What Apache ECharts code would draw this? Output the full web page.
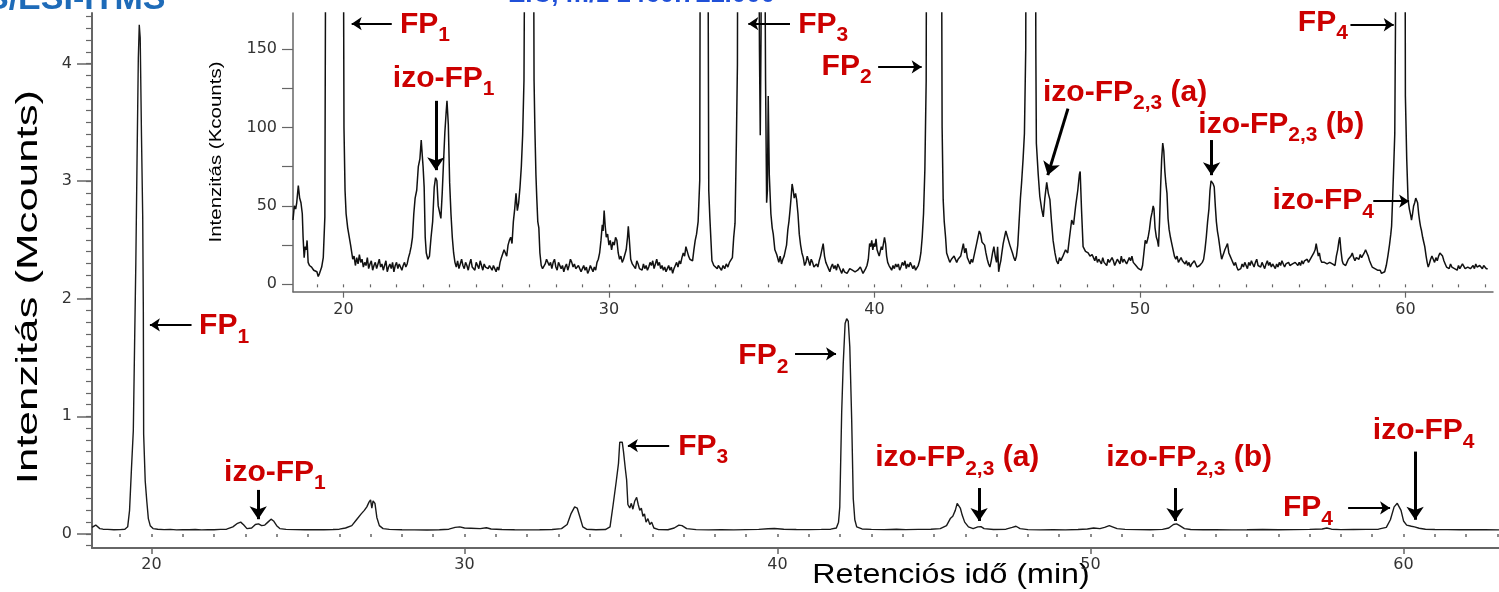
<!DOCTYPE html>
<html><head><meta charset="utf-8">
<script src="https://cdn.jsdelivr.net/npm/echarts@6/dist/echarts.min.js"></script>
<style>html,body{margin:0;padding:0;background:#fff}#c{width:1499px;height:592px}</style>
</head><body><div id="c"></div>
<script>
// ---------------- DATA ----------------
// Main chromatogram: [retention time (min), intensity (Mcounts)]
const mainTrace = [[18.10,0.055],[18.15,0.06],[18.22,0.075],[18.28,0.06],[18.35,0.045],[18.45,0.04],[18.6,0.038],[18.8,0.035],[19.0,0.036],[19.15,0.04],[19.24,0.06],[19.3,0.2],[19.36,0.55],[19.42,0.88],[19.46,1.6],[19.5,2.3],[19.54,3.2],[19.58,4.05],[19.61,4.33],[19.64,4.22],[19.68,3.4],[19.72,2.7],[19.74,1.9],[19.75,0.85],[19.8,0.45],[19.85,0.28],[19.9,0.13],[19.96,0.07],[20.05,0.045],[20.2,0.04],[20.4,0.036],[20.6,0.038],[20.8,0.034],[21.0,0.036],[21.2,0.035],[21.4,0.037],[21.6,0.034],[21.8,0.036],[22.0,0.035],[22.2,0.038],[22.4,0.04],[22.6,0.06],[22.75,0.09],[22.85,0.1],[22.95,0.075],[23.05,0.045],[23.2,0.05],[23.32,0.08],[23.42,0.085],[23.52,0.07],[23.62,0.075],[23.72,0.1],[23.82,0.125],[23.9,0.11],[24.0,0.07],[24.1,0.045],[24.3,0.038],[24.6,0.036],[24.9,0.035],[25.2,0.036],[25.5,0.035],[25.8,0.037],[26.0,0.04],[26.2,0.05],[26.4,0.07],[26.55,0.12],[26.7,0.17],[26.8,0.2],[26.88,0.23],[26.95,0.27],[27.0,0.29],[27.04,0.22],[27.08,0.28],[27.14,0.26],[27.2,0.14],[27.28,0.07],[27.4,0.045],[27.6,0.038],[28.0,0.035],[28.4,0.034],[28.8,0.033],[29.2,0.035],[29.5,0.04],[29.7,0.055],[29.85,0.06],[30.0,0.05],[30.2,0.048],[30.5,0.045],[30.7,0.052],[30.85,0.042],[31.2,0.037],[31.6,0.035],[32.0,0.034],[32.4,0.035],[32.8,0.037],[33.1,0.045],[33.28,0.08],[33.4,0.17],[33.52,0.23],[33.6,0.22],[33.68,0.15],[33.78,0.06],[33.9,0.04],[34.2,0.035],[34.5,0.037],[34.65,0.06],[34.75,0.25],[34.85,0.45],[34.92,0.6],[34.96,0.78],[35.04,0.78],[35.08,0.7],[35.14,0.55],[35.18,0.46],[35.22,0.25],[35.28,0.22],[35.33,0.26],[35.38,0.21],[35.44,0.28],[35.5,0.31],[35.55,0.25],[35.6,0.2],[35.65,0.22],[35.7,0.15],[35.75,0.17],[35.8,0.1],[35.86,0.13],[35.92,0.08],[35.98,0.1],[36.05,0.05],[36.2,0.036],[36.5,0.035],[36.7,0.05],[36.85,0.075],[36.95,0.07],[37.1,0.045],[37.4,0.036],[37.8,0.034],[38.2,0.035],[38.6,0.034],[39.0,0.036],[39.4,0.038],[39.7,0.044],[39.9,0.046],[40.2,0.04],[40.6,0.037],[41.0,0.036],[41.4,0.038],[41.7,0.04],[41.88,0.05],[41.95,0.1],[41.99,0.23],[42.05,1.03],[42.1,1.45],[42.16,1.79],[42.21,1.83],[42.26,1.81],[42.31,1.59],[42.37,0.97],[42.42,0.3],[42.47,0.12],[42.53,0.06],[42.7,0.042],[43.0,0.038],[43.4,0.036],[43.8,0.04],[44.1,0.036],[44.5,0.038],[44.9,0.04],[45.2,0.045],[45.4,0.07],[45.52,0.13],[45.6,0.15],[45.68,0.2],[45.74,0.26],[45.78,0.27],[45.84,0.22],[45.9,0.16],[45.98,0.1],[46.1,0.06],[46.25,0.045],[46.4,0.06],[46.5,0.062],[46.6,0.045],[46.9,0.037],[47.3,0.04],[47.5,0.055],[47.62,0.065],[47.75,0.045],[48.0,0.036],[48.4,0.034],[48.8,0.036],[49.2,0.034],[49.6,0.037],[49.9,0.042],[50.1,0.05],[50.3,0.045],[50.45,0.055],[50.6,0.07],[50.7,0.06],[50.85,0.045],[51.1,0.038],[51.5,0.036],[51.9,0.035],[52.3,0.038],[52.5,0.05],[52.65,0.08],[52.75,0.085],[52.85,0.07],[53.0,0.045],[53.2,0.037],[53.6,0.035],[54.0,0.036],[54.5,0.034],[55.0,0.035],[55.5,0.037],[56.0,0.035],[56.5,0.036],[57.0,0.038],[57.4,0.042],[57.55,0.05],[57.7,0.04],[58.0,0.036],[58.4,0.037],[58.8,0.038],[59.2,0.04],[59.45,0.055],[59.58,0.12],[59.7,0.23],[59.8,0.26],[59.86,0.26],[59.92,0.2],[60.0,0.11],[60.1,0.075],[60.25,0.065],[60.35,0.06],[60.5,0.048],[60.7,0.04],[61.0,0.037],[61.4,0.036],[61.8,0.035],[62.2,0.036],[62.6,0.035],[63.05,0.034]];

// Inset chromatogram: [retention time (min), intensity (Kcounts)] (peaks run off-scale)
const insetTrace = [[18.1,41],[18.15,50],[18.2,48],[18.24,52],[18.3,63],[18.35,55],[18.4,52],[18.45,45],[18.48,30],[18.52,17],[18.56,24],[18.6,22],[18.63,28],[18.67,14],[18.72,12],[18.8,11],[18.88,9],[18.95,10],[19.0,8],[19.05,5],[19.1,7],[19.18,11],[19.24,17],[19.3,43],[19.36,400],[19.6,5000],[19.97,400],[20.02,100],[20.06,60],[20.1,45],[20.16,36],[20.2,36],[20.27,25],[20.35,16],[20.4,18],[20.45,12],[20.5,17],[20.55,13],[20.6,19],[20.65,14],[20.7,16],[20.75,11],[20.8,14],[20.85,12],[20.9,17],[20.95,10],[21.0,13],[21.05,15],[21.1,9],[21.15,12],[21.2,14],[21.25,10],[21.3,13],[21.35,16],[21.4,11],[21.45,13],[21.5,9],[21.55,12],[21.6,15],[21.65,8],[21.7,11],[21.75,13],[21.8,10],[21.85,14],[21.9,8],[21.95,12],[22.0,14],[22.05,10],[22.1,13],[22.15,11],[22.2,9],[22.25,12],[22.3,14],[22.35,11],[22.4,13],[22.45,17],[22.5,20],[22.55,24],[22.6,30],[22.65,45],[22.7,55],[22.76,60],[22.82,75],[22.88,80],[22.93,92],[22.97,82],[23.0,75],[23.04,62],[23.08,30],[23.12,20],[23.18,16],[23.24,18],[23.3,30],[23.36,40],[23.42,62],[23.47,68],[23.52,66],[23.57,50],[23.62,46],[23.67,42],[23.72,58],[23.77,78],[23.82,97],[23.87,110],[23.9,117],[23.95,102],[24.0,65],[24.05,45],[24.1,30],[24.15,20],[24.2,14],[24.25,11],[24.3,15],[24.35,10],[24.4,13],[24.45,16],[24.5,12],[24.55,10],[24.6,14],[24.65,12],[24.7,9],[24.75,13],[24.8,16],[24.85,11],[24.9,12],[24.95,9],[25.0,14],[25.05,12],[25.1,10],[25.15,15],[25.2,12],[25.25,9],[25.3,13],[25.35,11],[25.4,12],[25.45,10],[25.5,12],[25.55,11],[25.6,9],[25.65,12],[25.7,10],[25.75,8],[25.8,11],[25.85,9],[25.9,14],[25.95,17],[26.0,16],[26.05,22],[26.1,23],[26.15,18],[26.2,25],[26.25,28],[26.3,30],[26.35,26],[26.4,40],[26.45,48],[26.5,58],[26.55,47],[26.6,52],[26.65,62],[26.7,75],[26.75,95],[26.8,130],[26.88,400],[27.0,2000],[27.13,400],[27.18,130],[27.21,100],[27.25,70],[27.28,56],[27.32,40],[27.36,36],[27.4,20],[27.45,12],[27.5,10],[27.55,11],[27.6,13],[27.65,16],[27.7,17],[27.75,12],[27.8,14],[27.85,10],[27.9,14],[27.95,16],[28.0,11],[28.05,9],[28.1,14],[28.15,13],[28.2,10],[28.25,12],[28.3,8],[28.35,11],[28.4,13],[28.45,9],[28.5,12],[28.55,16],[28.6,14],[28.65,11],[28.7,13],[28.75,10],[28.8,9],[28.85,12],[28.9,10],[28.95,8],[29.0,10],[29.05,12],[29.1,9],[29.15,11],[29.2,7],[29.25,9],[29.3,12],[29.35,10],[29.4,8],[29.45,11],[29.5,9],[29.55,14],[29.6,16],[29.65,20],[29.7,28],[29.75,38],[29.78,34],[29.82,47],[29.86,37],[29.9,30],[29.95,32],[30.0,25],[30.05,28],[30.1,22],[30.15,27],[30.2,25],[30.25,30],[30.3,28],[30.35,20],[30.4,16],[30.45,18],[30.5,14],[30.55,16],[30.6,15],[30.65,22],[30.7,30],[30.73,37],[30.77,28],[30.82,16],[30.88,13],[30.95,12],[31.0,10],[31.05,15],[31.1,13],[31.15,10],[31.2,11],[31.25,9],[31.3,13],[31.35,10],[31.4,12],[31.45,9],[31.5,11],[31.55,14],[31.6,12],[31.65,15],[31.7,10],[31.75,13],[31.8,16],[31.85,12],[31.9,14],[31.95,10],[32.0,12],[32.05,9],[32.1,11],[32.15,8],[32.2,10],[32.25,12],[32.3,9],[32.35,11],[32.4,7],[32.45,10],[32.5,12],[32.55,14],[32.6,11],[32.65,15],[32.7,13],[32.75,17],[32.8,20],[32.85,18],[32.9,24],[32.95,21],[33.0,18],[33.05,16],[33.1,17],[33.15,15],[33.2,22],[33.25,28],[33.3,32],[33.36,40],[33.42,66],[33.46,400],[33.58,2000],[33.7,400],[33.76,60],[33.8,43],[33.88,15],[33.95,12],[34.02,13],[34.08,10],[34.12,12],[34.18,11],[34.24,9],[34.3,12],[34.36,10],[34.42,13],[34.48,11],[34.54,14],[34.6,13],[34.65,17],[34.7,30],[34.75,39],[34.8,90],[34.84,140],[34.87,400],[35.2,3000],[35.6,400],[35.67,150],[35.7,95],[35.73,160],[35.76,400],[35.85,300],[35.9,130],[35.94,52],[35.97,60],[36.0,120],[36.04,70],[36.1,45],[36.15,36],[36.19,32],[36.25,22],[36.32,19],[36.4,14],[36.45,18],[36.5,13],[36.55,16],[36.6,18],[36.65,22],[36.69,25],[36.74,35],[36.78,40],[36.82,47],[36.86,55],[36.9,64],[36.94,60],[36.98,55],[37.03,58],[37.07,54],[37.12,45],[37.17,32],[37.22,25],[37.27,20],[37.32,17],[37.37,12],[37.42,14],[37.47,18],[37.52,15],[37.57,12],[37.62,16],[37.67,14],[37.72,11],[37.77,10],[37.82,13],[37.87,11],[37.92,15],[37.97,18],[38.02,22],[38.07,26],[38.12,18],[38.17,14],[38.22,12],[38.27,10],[38.32,8],[38.37,11],[38.42,13],[38.47,10],[38.52,12],[38.57,9],[38.62,13],[38.67,11],[38.72,9],[38.77,7],[38.82,10],[38.87,8],[38.92,9],[38.97,7],[39.02,8],[39.07,10],[39.12,11],[39.17,9],[39.22,10],[39.27,8],[39.32,7],[39.37,9],[39.42,8],[39.47,11],[39.52,9],[39.57,7],[39.62,8],[39.67,10],[39.72,12],[39.77,16],[39.82,26],[39.86,24],[39.9,28],[39.94,22],[39.98,26],[40.02,24],[40.06,29],[40.1,22],[40.14,20],[40.18,18],[40.22,17],[40.26,24],[40.3,22],[40.34,26],[40.38,30],[40.42,26],[40.46,18],[40.5,14],[40.55,12],[40.6,11],[40.65,9],[40.7,12],[40.75,10],[40.8,13],[40.85,11],[40.9,13],[40.95,9],[41.0,11],[41.05,14],[41.1,12],[41.15,15],[41.2,10],[41.25,13],[41.3,11],[41.35,14],[41.4,12],[41.45,10],[41.5,12],[41.55,9],[41.6,8],[41.65,12],[41.7,15],[41.75,20],[41.8,30],[41.85,45],[41.9,73],[41.95,130],[41.98,400],[42.2,3000],[42.5,400],[42.55,100],[42.59,54],[42.63,40],[42.68,30],[42.72,20],[42.78,17],[42.84,14],[42.9,16],[42.95,15],[43.0,18],[43.05,17],[43.1,14],[43.15,16],[43.2,15],[43.25,18],[43.3,22],[43.35,26],[43.4,20],[43.45,23],[43.5,17],[43.55,15],[43.6,13],[43.65,16],[43.7,14],[43.75,18],[43.8,22],[43.85,26],[43.9,30],[43.95,34],[44.0,32],[44.05,27],[44.1,26],[44.15,25],[44.2,20],[44.25,16],[44.3,13],[44.35,11],[44.4,15],[44.45,20],[44.5,24],[44.55,18],[44.6,14],[44.64,24],[44.68,8],[44.72,12],[44.76,15],[44.8,20],[44.85,26],[44.9,30],[44.95,34],[45.0,33],[45.05,28],[45.1,25],[45.15,24],[45.2,20],[45.25,17],[45.3,15],[45.35,18],[45.4,25],[45.45,40],[45.5,55],[45.54,64],[45.6,80],[45.65,96],[45.7,150],[45.73,400],[45.9,3000],[46.05,400],[46.08,150],[46.1,90],[46.17,70],[46.23,56],[46.3,48],[46.36,43],[46.42,55],[46.49,65],[46.55,58],[46.61,54],[46.67,40],[46.73,28],[46.8,20],[46.86,15],[46.92,13],[46.97,17],[47.02,15],[47.1,18],[47.2,22],[47.28,20],[47.35,30],[47.43,41],[47.5,38],[47.58,50],[47.66,60],[47.72,70],[47.75,72],[47.8,48],[47.86,24],[47.95,21],[48.05,20],[48.12,18],[48.2,19],[48.25,17],[48.3,15],[48.35,18],[48.4,14],[48.45,16],[48.5,15],[48.55,13],[48.6,17],[48.65,14],[48.7,15],[48.75,12],[48.8,16],[48.85,14],[48.9,13],[48.95,17],[49.0,15],[49.05,12],[49.1,14],[49.15,16],[49.2,15],[49.25,13],[49.3,18],[49.35,14],[49.4,16],[49.45,15],[49.5,13],[49.55,14],[49.6,17],[49.65,15],[49.7,18],[49.75,14],[49.8,15],[49.85,12],[49.9,11],[49.95,10],[50.0,11],[50.05,9],[50.1,12],[50.15,20],[50.2,28],[50.25,26],[50.31,30],[50.36,35],[50.41,42],[50.46,46],[50.5,50],[50.53,48],[50.57,36],[50.62,30],[50.66,28],[50.7,24],[50.74,40],[50.78,62],[50.82,80],[50.86,90],[50.9,85],[50.94,72],[50.98,64],[51.02,58],[51.06,42],[51.1,35],[51.15,30],[51.2,26],[51.25,22],[51.3,18],[51.35,16],[51.4,18],[51.45,14],[51.5,15],[51.55,17],[51.6,15],[51.65,14],[51.7,13],[51.75,15],[51.8,12],[51.85,14],[51.9,11],[51.95,13],[52.0,12],[52.05,15],[52.1,14],[52.15,11],[52.2,10],[52.25,12],[52.3,13],[52.35,14],[52.4,16],[52.45,22],[52.5,30],[52.55,40],[52.6,48],[52.64,60],[52.68,66],[52.72,65],[52.76,64],[52.8,62],[52.84,50],[52.88,40],[52.92,34],[52.96,30],[53.0,25],[53.04,20],[53.08,16],[53.12,18],[53.16,20],[53.2,22],[53.25,24],[53.3,26],[53.35,20],[53.4,18],[53.45,16],[53.5,14],[53.55,12],[53.6,14],[53.65,11],[53.7,9],[53.75,8],[53.8,10],[53.85,13],[53.9,11],[53.95,14],[54.0,12],[54.05,10],[54.1,14],[54.15,12],[54.2,15],[54.25,13],[54.3,11],[54.35,14],[54.4,16],[54.45,12],[54.5,13],[54.55,11],[54.6,14],[54.65,12],[54.7,10],[54.75,13],[54.8,15],[54.85,12],[54.9,14],[54.95,11],[55.0,13],[55.05,12],[55.1,10],[55.15,13],[55.2,11],[55.25,14],[55.3,12],[55.35,15],[55.4,13],[55.45,11],[55.5,13],[55.55,12],[55.6,14],[55.65,12],[55.7,11],[55.75,13],[55.8,12],[55.85,14],[55.9,13],[55.95,12],[56.0,14],[56.05,12],[56.1,15],[56.15,13],[56.2,15],[56.25,14],[56.3,16],[56.35,14],[56.4,15],[56.45,17],[56.5,18],[56.55,20],[56.6,22],[56.64,26],[56.68,22],[56.72,18],[56.76,20],[56.8,16],[56.85,14],[56.9,13],[56.95,14],[57.0,15],[57.05,13],[57.1,12],[57.15,14],[57.2,15],[57.25,13],[57.3,14],[57.35,12],[57.4,18],[57.45,22],[57.5,28],[57.53,30],[57.57,22],[57.62,15],[57.66,13],[57.7,14],[57.75,12],[57.8,14],[57.85,16],[57.9,15],[57.95,18],[58.0,20],[58.05,17],[58.1,15],[58.15,17],[58.2,18],[58.25,16],[58.3,19],[58.35,17],[58.4,18],[58.45,20],[58.5,22],[58.55,20],[58.6,18],[58.65,15],[58.7,13],[58.75,11],[58.8,12],[58.85,10],[58.9,11],[58.95,9],[59.0,8],[59.05,9],[59.1,7],[59.16,6],[59.22,8],[59.28,12],[59.34,18],[59.4,25],[59.45,32],[59.48,37],[59.52,55],[59.56,75],[59.6,96],[59.64,200],[59.66,400],[59.8,3000],[59.97,400],[60.0,120],[60.05,80],[60.1,54],[60.15,48],[60.2,44],[60.23,41],[60.27,45],[60.31,50],[60.35,52],[60.39,55],[60.42,56],[60.46,52],[60.5,45],[60.54,40],[60.57,37],[60.61,34],[60.65,30],[60.69,27],[60.73,24],[60.78,18],[60.82,14],[60.86,11],[60.9,13],[60.95,16],[61.0,18],[61.05,16],[61.1,14],[61.15,17],[61.2,15],[61.25,18],[61.3,20],[61.35,19],[61.4,18],[61.45,15],[61.5,13],[61.55,11],[61.6,12],[61.65,10],[61.7,13],[61.75,11],[61.8,12],[61.85,10],[61.9,11],[61.95,9],[62.0,12],[62.05,10],[62.1,11],[62.15,13],[62.2,12],[62.25,10],[62.3,9],[62.35,11],[62.4,12],[62.45,10],[62.5,11],[62.55,12],[62.6,10],[62.65,13],[62.7,11],[62.75,10],[62.8,12],[62.85,11],[62.9,10],[62.95,12],[63.0,11],[63.05,10],[63.1,10]];

// Tick labels
const mainXTicks = [20, 30, 40, 50, 60];
const mainYTicks = [0, 1, 2, 3, 4];
const insetXTicks = [20, 30, 40, 50, 60];
const insetYTicks = [0, 50, 100, 150];
const insetYMinorTicks = [0, 25, 50, 75, 100, 125, 150];

// Annotation labels (rich text: m = main, s = subscript) and anchors [time, intensity]
const mainLabelText = ['{m|FP}{s|1}', '{m|izo-FP}{s|1}', '{m|FP}{s|3}', '{m|FP}{s|2}', '{m|izo-FP}{s|2,3}{m| (a)}', '{m|izo-FP}{s|2,3}{m| (b)}', '{m|FP}{s|4}', '{m|izo-FP}{s|4}'];
const mainLabelPos = [[21.52, 1.77], [22.32, 0.523], [36.83, 0.742], [38.75, 1.515], [43.12, 0.646], [50.5, 0.646], [56.15, 0.221], [59.02, 0.876]];
// Arrows: [from, to, width]
const mainArrows = [[[21.28, 1.777], [19.95, 1.777], 2], [[23.41, 0.374], [23.41, 0.125], 3], [[36.54, 0.751], [35.22, 0.751], 2], [[40.56, 1.531], [41.87, 1.531], 2], [[46.44, 0.39], [46.44, 0.11], 3], [[52.7, 0.39], [52.7, 0.11], 3], [[58.23, 0.221], [59.57, 0.221], 2], [[60.37, 0.70], [60.37, 0.12], 3]];

const insetLabelText = ['{m|FP}{s|1}', '{m|izo-FP}{s|1}', '{m|FP}{s|3}', '{m|FP}{s|2}', '{m|izo-FP}{s|2,3}{m| (a)}', '{m|izo-FP}{s|2,3}{m| (b)}', '{m|FP}{s|4}', '{m|izo-FP}{s|4}'];
const insetLabelPos = [[22.13, 165.8], [21.86, 131.4], [37.13, 165.8], [38.01, 139], [46.35, 122.4], [52.2, 102], [55.95, 167], [54.99, 53]];
const insetArrows = [[[21.82, 166.2], [20.31, 166.2], 2], [[23.48, 117], [23.48, 72.8], 3], [[36.82, 166.2], [35.25, 166.2], 2], [[40.14, 138.6], [41.78, 138.6], 2], [[47.29, 112], [46.53, 69.6], 3], [[52.7, 92], [52.7, 69.6], 3], [[57.93, 165.5], [59.56, 165.5], 2], [[58.79, 53], [60.14, 53], 2]];

// ---------------- CHART ----------------
const chart = echarts.init(document.getElementById('c'), null, {renderer: 'canvas'});
const RED = '#cc0000';
const rich = {
  m: {fontSize: 30, fontWeight: 'bold', color: RED, fontFamily: 'Liberation Sans', lineHeight: 32, opacity: 1},
  s: {fontSize: 21, fontWeight: 'bold', color: RED, fontFamily: 'Liberation Sans', lineHeight: 22, padding: [22, 0, 0, 0], opacity: 1}
};
function range(a, b, step) { const r = []; for (let i = 0; a + i * step <= b + 1e-9; i++) r.push(Math.round((a + i * step) * 100) / 100); return r; }
const mainXMinor = range(19, 63, 1);
const mainYMinor = range(-0.1, 4.4, 0.1);
const insetXMinor = range(19, 63, 1);
const axisGray = '#666';
const tickFont = {fontFamily: 'DejaVu Sans', color: '#333'};

function arrowData(list) {
  return list.map(a => [
    {coord: a[0], symbol: 'none', lineStyle: {width: a[2], color: '#000'}},
    {coord: a[1], symbol: 'arrow', symbolSize: a[2] === 3 ? 13 : 10, itemStyle: {color: '#000'}}
  ]);
}
function labelSeries(name, xi, yi, pos, texts) {
  return {
    name: name, type: 'scatter', xAxisIndex: xi, yAxisIndex: yi, symbolSize: 0, silent: true,
    itemStyle: {color: RED, opacity: 1},
    data: pos,
    label: {show: true, position: 'right', distance: 0, color: RED, opacity: 1, formatter: p => texts[p.dataIndex], rich: rich},
    z: 10
  };
}
function arrowSeries(name, xi, yi, list) {
  return {
    name: name, type: 'line', xAxisIndex: xi, yAxisIndex: yi, data: [], silent: true,
    itemStyle: {color: '#000'}, lineStyle: {color: '#000'},
    markLine: {silent: true, symbol: ['none', 'arrow'], symbolSize: 10, precision: 4,
      label: {show: false}, itemStyle: {color: '#000'},
      lineStyle: {color: '#000', type: 'solid', width: 2, opacity: 1}, emphasis: {disabled: true},
      data: arrowData(list)},
    z: 9
  };
}

const option = {
  animation: false,
  backgroundColor: '#fff',
  grid: [
    {left: 92, right: 0, top: 13, bottom: 44},
    {left: 293, right: 6, top: 13, bottom: 300.3}
  ],
  xAxis: [
    {type: 'value', gridIndex: 0, min: 18.1, max: 63.05, position: 'bottom',
     axisLine: {onZero: false, lineStyle: {color: axisGray, width: 2}},
     axisTick: {customValues: mainXTicks, length: 6, lineStyle: {color: axisGray, width: 1.5}},
     axisLabel: {customValues: mainXTicks, margin: 9, fontSize: 16, ...tickFont},
     splitLine: {show: false}},
    {type: 'value', gridIndex: 0, min: 18.1, max: 63.05, position: 'bottom',
     axisLine: {show: false}, axisTick: {customValues: mainXMinor, length: 3, lineStyle: {color: axisGray, width: 1.5}},
     axisLabel: {show: false}, splitLine: {show: false}},
    {type: 'value', gridIndex: 1, min: 18.1, max: 63.3, position: 'bottom',
     axisLine: {onZero: false, lineStyle: {color: axisGray, width: 1.5}},
     axisTick: {customValues: insetXTicks, length: 6, lineStyle: {color: axisGray, width: 1.2}},
     axisLabel: {customValues: insetXTicks, margin: 10, fontSize: 16, ...tickFont},
     splitLine: {show: false}},
    {type: 'value', gridIndex: 1, min: 18.1, max: 63.3, position: 'bottom',
     axisLine: {show: false}, axisTick: {customValues: insetXMinor, length: 3, lineStyle: {color: axisGray, width: 1.2}},
     axisLabel: {show: false}, splitLine: {show: false}}
  ],
  yAxis: [
    {type: 'value', gridIndex: 0, min: -0.12, max: 4.43, position: 'left',
     axisLine: {onZero: false, lineStyle: {color: axisGray, width: 2}},
     axisTick: {customValues: mainYTicks, length: 15, lineStyle: {color: axisGray, width: 1.5}},
     axisLabel: {customValues: mainYTicks, margin: 20, fontSize: 16, ...tickFont},
     splitLine: {show: false}},
    {type: 'value', gridIndex: 0, min: -0.12, max: 4.43, position: 'left',
     axisLine: {show: false}, axisTick: {customValues: mainYMinor, length: 6, lineStyle: {color: axisGray, width: 1.2}},
     axisLabel: {show: false}, splitLine: {show: false}},
    {type: 'value', gridIndex: 1, min: -4.7, max: 173, position: 'left',
     axisLine: {onZero: false, lineStyle: {color: axisGray, width: 1.5}},
     axisTick: {customValues: insetYMinorTicks, length: 11, lineStyle: {color: axisGray, width: 1.2}},
     axisLabel: {customValues: insetYTicks, margin: 16, fontSize: 16, ...tickFont},
     splitLine: {show: false}}
  ],
  series: [
    {name: 'main', type: 'line', xAxisIndex: 0, yAxisIndex: 0, data: mainTrace, showSymbol: false, symbol: 'none',
     lineStyle: {color: '#1a1a1a', width: 1.4}, clip: true, silent: true},
    {name: 'inset', type: 'line', xAxisIndex: 2, yAxisIndex: 2, data: insetTrace, showSymbol: false, symbol: 'none',
     lineStyle: {color: '#111', width: 1.5}, clip: true, silent: true},
    arrowSeries('mainArrows', 0, 0, mainArrows),
    arrowSeries('insetArrows', 2, 2, insetArrows),
    labelSeries('mainLabels', 0, 0, mainLabelPos, mainLabelText),
    labelSeries('insetLabels', 2, 2, insetLabelPos, insetLabelText)
  ],
  graphic: [
    {type: 'text', x: 29, y: 287, rotation: Math.PI / 2, scaleX: 1.51, silent: true,
     style: {text: 'Intenzitás (Mcounts)', font: '29px "Liberation Sans"', fill: '#000', align: 'center', verticalAlign: 'middle'}},
    {type: 'text', x: 951, y: 575, scaleX: 1.15, silent: true,
     style: {text: 'Retenciós idő (min)', font: '28px "Liberation Sans"', fill: '#000', align: 'center', verticalAlign: 'middle'}},
    {type: 'text', x: 217, y: 152, rotation: Math.PI / 2, scaleX: 1.28, silent: true,
     style: {text: 'Intenzitás (Kcounts)', font: '16px "Liberation Sans"', fill: '#000', align: 'center', verticalAlign: 'middle'}},
    {type: 'text', x: -14, y: 17, silent: true,
     style: {text: 'S/ESI-ITMS', font: 'bold 34px "Liberation Sans"', fill: '#1e6bb8', align: 'left', verticalAlign: 'bottom'}},
    {type: 'text', x: 508, y: 8, silent: true,
     style: {text: 'EIC, m/z 1460.7±1.000', font: 'bold 26px "Liberation Sans"', fill: '#2050d8', align: 'left', verticalAlign: 'bottom'}}
  ]
};
chart.setOption(option);
</script>
</body></html>
